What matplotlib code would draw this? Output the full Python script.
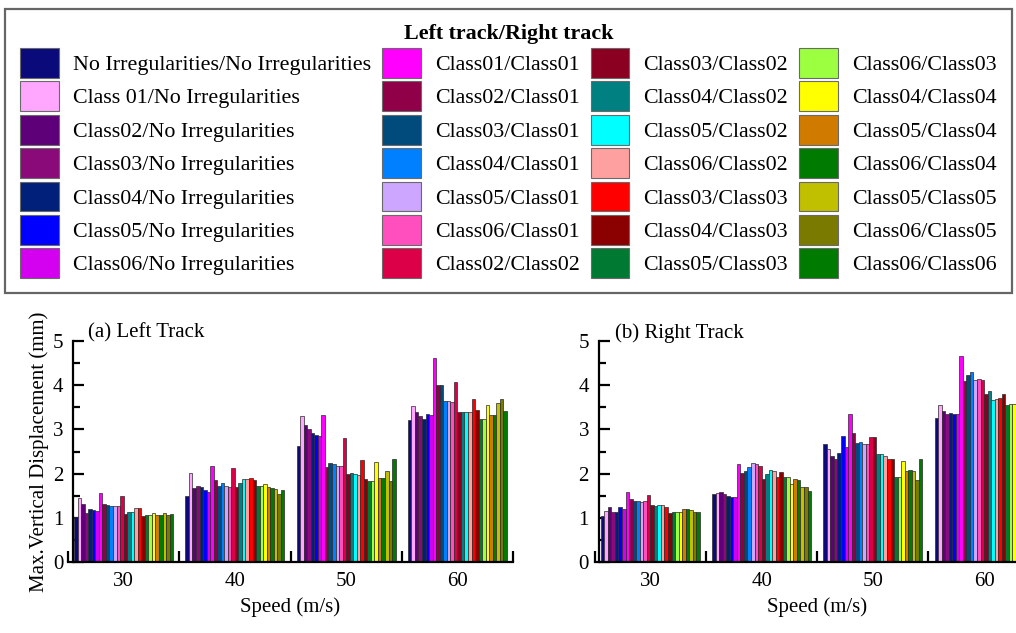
import numpy as np
import matplotlib
matplotlib.use("Agg")
import matplotlib.pyplot as plt
from matplotlib.patches import Patch

plt.rcParams['font.family'] = ['Liberation Serif', 'DejaVu Serif']

speeds = ['30', '40', '50', '60']
series = ['No Irregularities/No Irregularities', 'Class 01/No Irregularities',
          'Class02/No Irregularities', 'Class03/No Irregularities',
          'Class04/No Irregularities', 'Class05/No Irregularities',
          'Class06/No Irregularities',
          'Class01/Class01', 'Class02/Class01', 'Class03/Class01', 'Class04/Class01',
          'Class05/Class01', 'Class06/Class01', 'Class02/Class02',
          'Class03/Class02', 'Class04/Class02', 'Class05/Class02', 'Class06/Class02',
          'Class03/Class03', 'Class04/Class03', 'Class05/Class03',
          'Class06/Class03', 'Class04/Class04', 'Class05/Class04', 'Class06/Class04',
          'Class05/Class05', 'Class06/Class05', 'Class06/Class06']
colors = ['#0a0a7a', '#ffa6ff', '#5e0078', '#8b0a7a', '#00207a', '#0000ff', '#d400f0',
          '#ff00ff', '#900048', '#004a7c', '#0080ff', '#cca6ff', '#ff4fbf', '#dc0048',
          '#8b0020', '#008080', '#00ffff', '#ffa0a0', '#ff0000', '#8b0000', '#007a33',
          '#9cff40', '#ffff00', '#d17a00', '#007a00', '#c0c000', '#7a7a00', '#007a00']

# Left track: one list per speed, one value per series
left_30 = [1.02, 1.45, 1.31, 1.10, 1.21, 1.18, 1.16, 1.55, 1.31, 1.30, 1.27, 1.27, 1.26, 1.49,
           1.09, 1.13, 1.13, 1.23, 1.23, 1.03, 1.07, 1.07, 1.10, 1.07, 1.06, 1.11, 1.07, 1.09]
left_40 = [1.50, 2.01, 1.68, 1.71, 1.69, 1.63, 1.58, 2.18, 1.85, 1.71, 1.79, 1.71, 1.69, 2.13,
           1.69, 1.79, 1.87, 1.87, 1.91, 1.85, 1.73, 1.73, 1.76, 1.70, 1.67, 1.66, 1.54, 1.63]
left_50 = [2.62, 3.31, 3.09, 3.00, 2.91, 2.87, 2.86, 3.33, 2.16, 2.23, 2.22, 2.18, 2.18, 2.80,
           1.98, 2.01, 1.98, 1.97, 2.31, 1.87, 1.83, 1.83, 2.26, 1.89, 1.89, 2.07, 1.83, 2.32]
left_60 = [3.22, 3.52, 3.40, 3.31, 3.24, 3.35, 3.33, 4.62, 4.01, 4.01, 3.64, 3.64, 3.61, 4.08,
           3.39, 3.39, 3.39, 3.39, 3.69, 3.43, 3.24, 3.24, 3.56, 3.33, 3.33, 3.60, 3.69, 3.42]

# Right track (the last bars of the 60 m/s group are cut off by the image edge)
right_30 = [1.03, 1.16, 1.25, 1.12, 1.14, 1.25, 1.19, 1.58, 1.42, 1.39, 1.39, 1.36, 1.38, 1.52,
            1.30, 1.27, 1.30, 1.30, 1.24, 1.10, 1.14, 1.14, 1.12, 1.19, 1.19, 1.18, 1.14, 1.12]
right_40 = [1.53, 1.55, 1.58, 1.54, 1.49, 1.46, 1.46, 2.21, 2.01, 2.06, 2.14, 2.25, 2.22, 2.17,
            1.87, 1.99, 2.08, 2.07, 1.92, 2.04, 1.92, 1.92, 1.76, 1.87, 1.86, 1.70, 1.70, 1.61]
right_50 = [2.66, 2.55, 2.40, 2.32, 2.46, 2.86, 2.61, 3.35, 2.91, 2.70, 2.71, 2.67, 2.67, 2.83,
            2.83, 2.44, 2.44, 2.39, 2.34, 2.34, 1.92, 1.92, 2.29, 2.07, 2.08, 2.05, 1.86, 2.34]
right_60 = [3.25, 3.55, 3.42, 3.34, 3.37, 3.35, 3.35, 4.65, 4.10, 4.23, 4.29, 4.12, 4.13, 4.11,
            3.81, 3.88, 3.66, 3.68, 3.72, 3.80, 3.55, 3.57, 3.57]

left_data = [left_30, left_40, left_50, left_60]
right_data = [right_30, right_40, right_50, right_60]

W, H = 1016, 633
fig = plt.figure(figsize=(W / 100, H / 100), dpi=100)

FS = 15
bw = 0.89 / len(series)


def draw_panel(ax, data, title, spine_off):
    n = len(series)
    for gi, vals in enumerate(data):
        for j, v in enumerate(vals):
            ax.bar(gi + (j - (n - 1) / 2) * bw, v, width=bw, color=colors[j],
                   edgecolor='#2a2a2a', linewidth=0.5, zorder=2)
    ax.set_xlim(-0.5, 3.5)
    ax.set_ylim(0, 5)
    for s in ['top', 'right']:
        ax.spines[s].set_visible(False)
    ax.spines['left'].set_position(('axes', spine_off))
    ax.spines['left'].set_linewidth(1.6)
    ax.spines['bottom'].set_linewidth(1.6)
    ax.set_yticks([0, 1, 2, 3, 4, 5])
    ax.set_yticks(np.arange(0.5, 5, 1.0), minor=True)
    ax.tick_params(axis='y', which='major', direction='in', length=8, width=1.6,
                   labelsize=FS, pad=7)
    ax.tick_params(axis='y', which='minor', direction='in', length=5, width=1.6)
    ax.set_xticks(np.arange(len(speeds)))
    ax.set_xticklabels(speeds)
    ax.set_xticks(np.arange(-0.5, len(speeds), 1.0), minor=True)
    ax.tick_params(axis='x', which='major', length=0, labelsize=FS, pad=7)
    ax.tick_params(axis='x', which='minor', direction='in', length=8, width=1.6)
    ax.set_xlabel('Speed (m/s)', fontsize=FS, labelpad=5)
    ax.text(0.045, 1.035, title, transform=ax.transAxes, fontsize=FS,
            ha='left', va='center')


ax1 = fig.add_axes([68 / W, 1 - 562 / H, 445 / W, 221 / H])
draw_panel(ax1, left_data, '(a) Left Track', 5 / 445)
ax1.set_ylabel('Max.Vertical Displacement (mm)', fontsize=FS, labelpad=3)

ax2 = fig.add_axes([594.7 / W, 1 - 562 / H, 445 / W, 221 / H])
draw_panel(ax2, right_data, '(b) Right Track', 4 / 445)

LFS = 15.8
handles = [Patch(facecolor=c, edgecolor='#6a6a6a', linewidth=0.8) for c in colors]
leg = fig.legend(handles, series, loc='upper left',
                 bbox_to_anchor=(5 / W, 1 - 293 / H, 1007 / W, 284 / H),
                 mode='expand', ncol=4, fontsize=LFS, title='Left track/Right track',
                 title_fontproperties={'weight': 'bold', 'size': LFS},
                 frameon=True, fancybox=False, edgecolor='#404040',
                 handlelength=1.75, handleheight=1.71, handletextpad=0.65,
                 labelspacing=0.165, columnspacing=0.9, borderpad=0.7,
                 borderaxespad=0)
leg.get_frame().set_linewidth(1.6)

fig.savefig('out.png', dpi=100)
